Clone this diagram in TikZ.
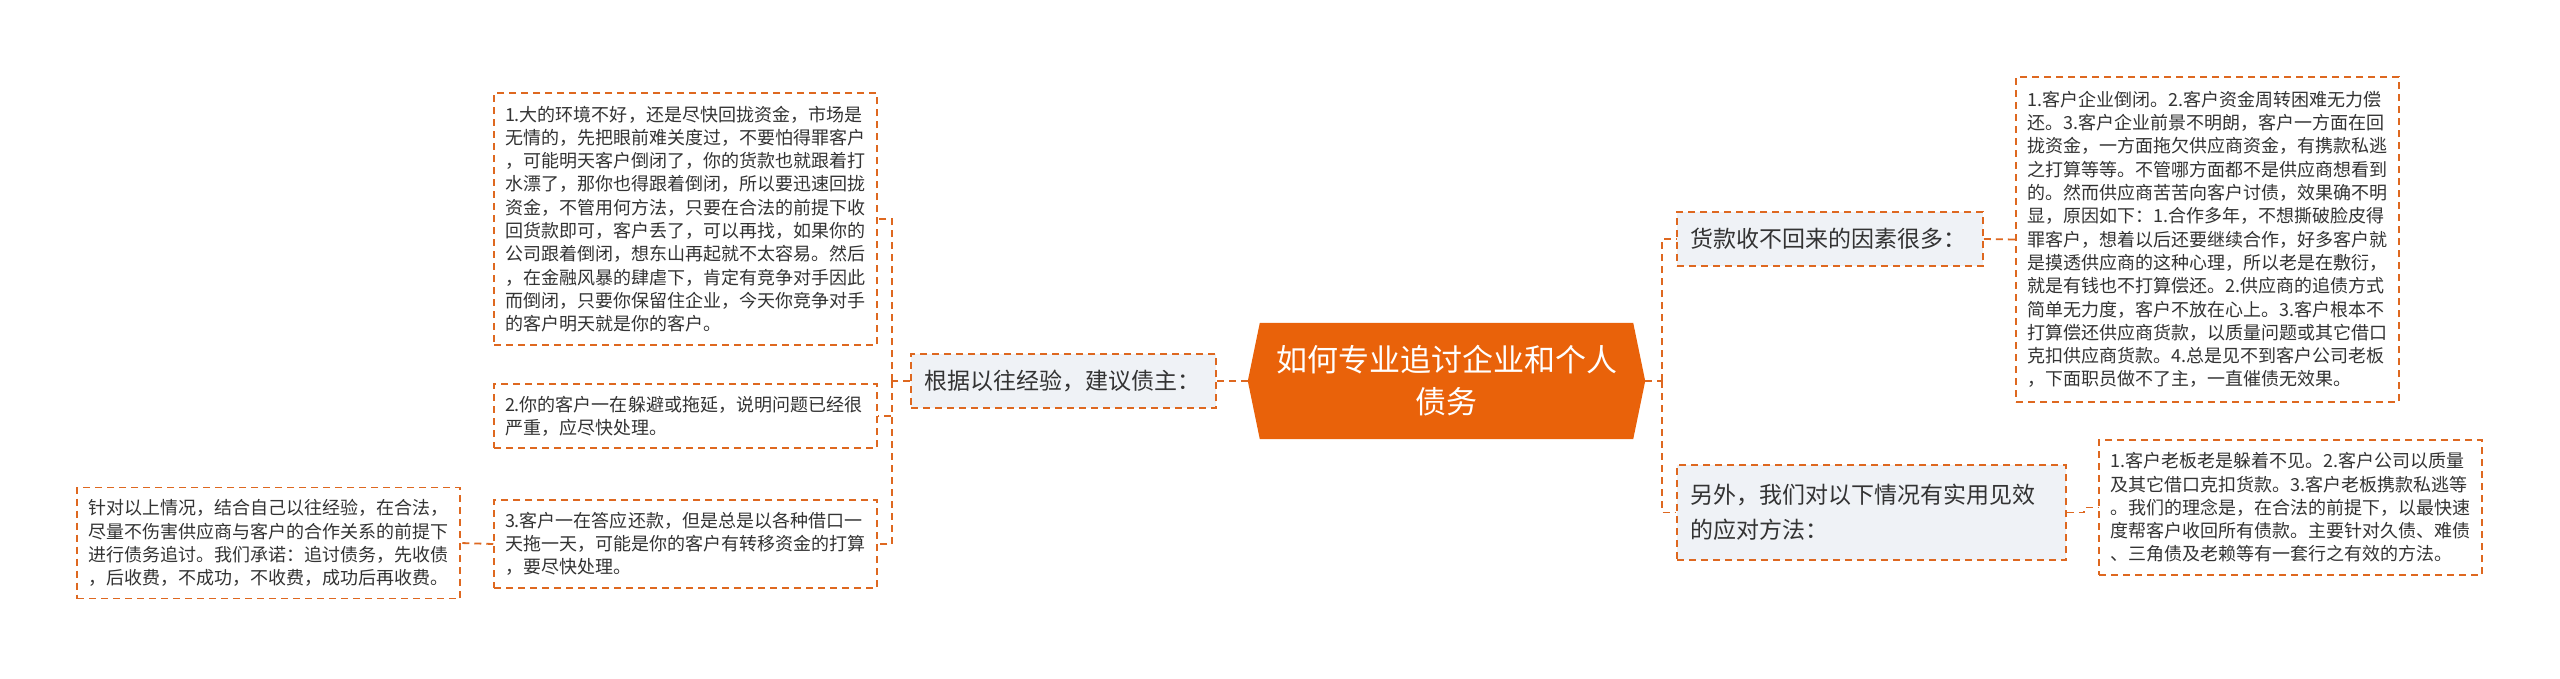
\documentclass[tikz,border=0pt]{standalone}
\usepackage{fontspec}
\setmainfont{Noto Sans CJK SC}
\usetikzlibrary{backgrounds}

\definecolor{lineor}{RGB}{222,104,32}
\definecolor{rootor}{RGB}{233,98,10}
\definecolor{branchgray}{RGB}{239,242,246}
\definecolor{textgray}{RGB}{51,51,51}

\begin{document}
\begin{tikzpicture}[x=1pt,y=-1pt,
    link/.style={draw=lineor,line width=1.8pt,dash pattern=on 7pt off 5pt},
    leaf/.style={draw=lineor,line width=1.5pt,dash pattern=on 7pt off 5pt,fill=white,
      text=textgray,font=\fontsize{18}{23.3}\selectfont,align=left,
      inner xsep=11pt,text width=361pt,minimum height=#1},
    branch/.style={draw=lineor,line width=1.5pt,dash pattern=on 7pt off 5pt,fill=branchgray,
      text=textgray,font=\fontsize{23}{35}\selectfont,align=left,inner xsep=13pt},
    root/.style={text=white,font=\fontsize{31}{42}\selectfont,align=center,
      minimum width=397pt,minimum height=116pt}]
        \useasboundingbox (0,0) rectangle (2560,678);

        \node[root] (root) at (1446.5,381) {如何专业追讨企业和个人\\债务};

        % left side
        \node[branch,text width=279pt,minimum height=54pt] (adv) at (1063.5,381) {根据以往经验，建议债主：};
        \node[leaf=252pt] (t1) at (685.5,219) {1.大的环境不好，还是尽快回拢资金，市场是\\
          无情的，先把眼前难关度过，不要怕得罪客户\\
          ，可能明天客户倒闭了，你的货款也就跟着打\\
          水漂了，那你也得跟着倒闭，所以要迅速回拢\\
          资金，不管用何方法，只要在合法的前提下收\\
          回货款即可，客户丢了，可以再找，如果你的\\
          公司跟着倒闭，想东山再起就不太容易。然后\\
          ，在金融风暴的肆虐下，肯定有竞争对手因此\\
          而倒闭，只要你保留住企业，今天你竞争对手\\
          的客户明天就是你的客户。};
        \node[leaf=64pt] (t2) at (685.5,416) {2.你的客户一在躲避或拖延，说明问题已经很\\
          严重，应尽快处理。};
        \node[leaf=88pt] (t3) at (685.5,544) {3.客户一在答应还款，但是总是以各种借口一\\
          天拖一天，可能是你的客户有转移资金的打算\\
          ，要尽快处理。};
        \node[leaf=111pt] (t4) at (268.5,543) {针对以上情况，结合自己以往经验，在合法，\\
          尽量不伤害供应商与客户的合作关系的前提下\\
          进行债务追讨。我们承诺：追讨债务，先收债\\
          ，后收费，不成功，不收费，成功后再收费。};

        % right side
        \node[branch,text width=280pt,minimum height=54pt] (why) at (1830,239) {货款收不回来的因素很多：};
        \node[branch,text width=363pt,minimum height=95pt] (also) at (1871.5,512.5) {另外，我们对以下情况有实用见效\\的应对方法：};
        \node[leaf=325pt] (r1) at (2207.5,239.5) {1.客户企业倒闭。2.客户资金周转困难无力偿\\
          还。3.客户企业前景不明朗，客户一方面在回\\
          拢资金，一方面拖欠供应商资金，有携款私逃\\
          之打算等等。不管哪方面都不是供应商想看到\\
          的。然而供应商苦苦向客户讨债，效果确不明\\
          显，原因如下：1.合作多年，不想撕破脸皮得\\
          罪客户，想着以后还要继续合作，好多客户就\\
          是摸透供应商的这种心理，所以老是在敷衍，\\
          就是有钱也不打算偿还。2.供应商的追债方式\\
          简单无力度，客户不放在心上。3.客户根本不\\
          打算偿还供应商货款，以质量问题或其它借口\\
          克扣供应商货款。4.总是见不到客户公司老板\\
          ，下面职员做不了主，一直催债无效果。};
        \node[leaf=135pt] (r2) at (2290.5,507.5) {1.客户老板老是躲着不见。2.客户公司以质量\\
          及其它借口克扣货款。3.客户老板携款私逃等\\
          。我们的理念是，在合法的前提下，以最快速\\
          度帮客户收回所有债款。主要针对久债、难债\\
          、三角债及老赖等有一套行之有效的方法。};

        \begin{scope}[on background layer]
          \fill[white] (0,0) rectangle (2560,678);
          \fill[rootor] (root.west) -- ([xshift=12pt]root.north west) -- ([xshift=-12pt]root.north east)
            -- (root.east) -- ([xshift=-12pt]root.south east) -- ([xshift=12pt]root.south west) -- cycle;
        \end{scope}

        \draw[link] (root.west) -- (adv.east);
        \draw[link] (adv.west) -- ++(-18,0) coordinate (lt);
        \draw[link] (lt) |- (t1.east);
        \draw[link] (lt) |- (t2.east);
        \draw[link] (lt) |- (t3.east);
        \draw[link] (t3.west) -- (t4.east);

        \draw[link] (root.east) -- ++(17,0) coordinate (rt);
        \draw[link] (rt) |- (why.west);
        \draw[link] (rt) |- (also.west);
        \draw[link] (why.east) -- (r1.west);
        \draw[link] (also.east) -- ++(17,0) |- (r2.west);
      \end{tikzpicture}
\end{document}
